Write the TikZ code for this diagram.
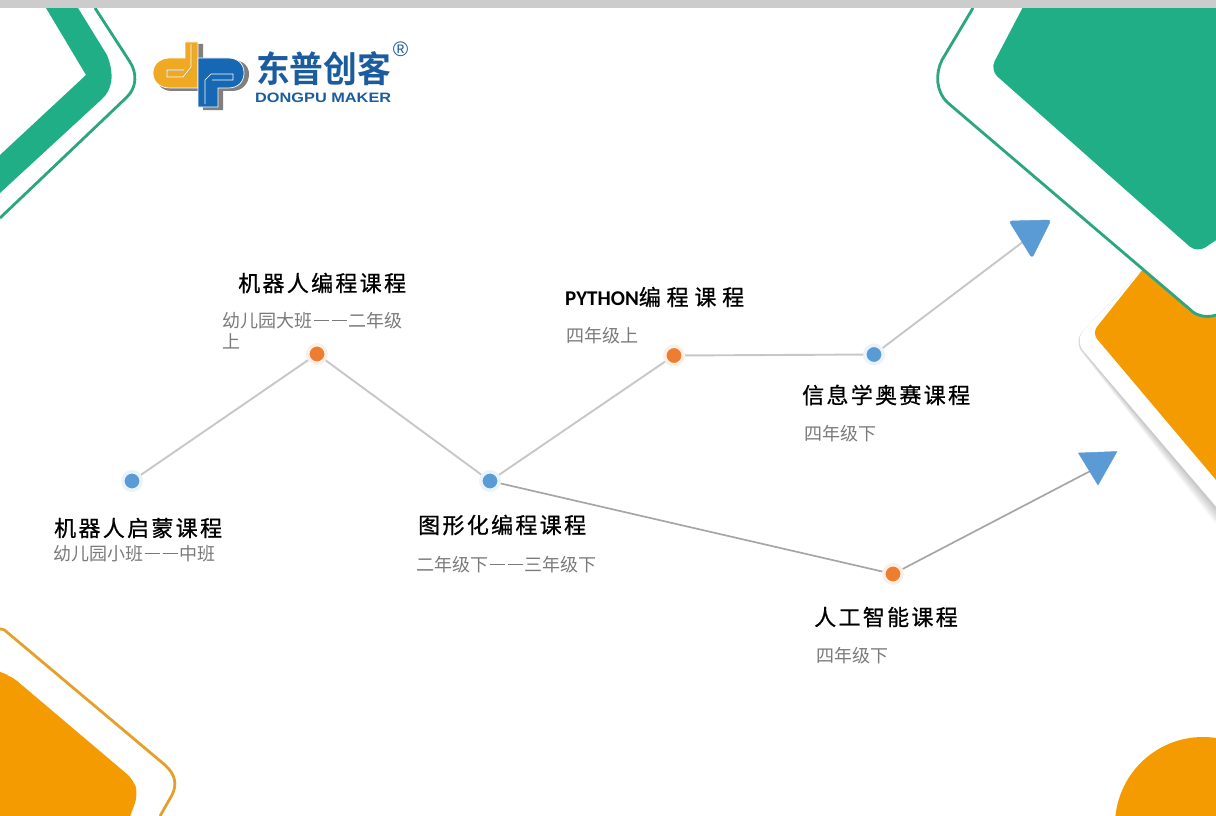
\documentclass[tikz,border=0pt]{standalone}
\usepackage{fontspec}
\setmainfont{Liberation Sans}
\newfontfamily\cjkreg{Noto Sans CJK SC}
\newfontfamily\cjktitle[LetterSpace=10.5,FakeBold=0.8]{Noto Sans CJK SC}
\newfontfamily\cjkbold[BoldFont={Noto Sans CJK SC Bold}]{Noto Sans CJK SC}
\newfontfamily\titlelatin{Carlito}
\newcommand{\dsh}{\hbox to 18pt{\hss\rule[.33em]{15pt}{1.4pt}\hss}}
\newcommand{\tgap}{\hspace{5.8pt}}
\definecolor{gfill}{HTML}{1FAE85}
\definecolor{gline}{HTML}{2BA67E}
\definecolor{ofill}{HTML}{F39B00}
\definecolor{oline}{HTML}{E5A02C}
\definecolor{dblue}{HTML}{5B9BD5}
\definecolor{dorange}{HTML}{ED7D31}
\definecolor{lblue}{HTML}{1A5C9E}
\definecolor{lorange}{HTML}{EFA922}
\definecolor{lpblue}{HTML}{1668B4}
\tikzset{
  titletext/.style={anchor=west,inner sep=0pt,text=black,font=\cjktitle\fontsize{22}{24}\selectfont},
  subtext/.style={anchor=west,inner sep=0pt,text=black!52,font=\cjkreg\fontsize{18}{21}\selectfont},
  bluedot/.style={circle,inner sep=0pt,minimum size=18.5pt,fill=dblue,draw=dblue!12,line width=3.5pt},
  orangedot/.style={circle,inner sep=0pt,minimum size=18.5pt,fill=dorange,draw=dorange!12,line width=3.5pt},
  link/.style={draw=black!22,line width=1.9pt},
  darklink/.style={draw=black!35,line width=1.7pt},
  tri/.style={fill=dblue,draw=dblue,line width=.5pt,line join=round},
  greenline/.style={draw=gline,line width=2.8pt},
  orangeline/.style={draw=oline,line width=2.8pt},
}
\begin{document}
\begin{tikzpicture}[x=1pt,y=-1pt]
\useasboundingbox (0,0) rectangle (1216,816);
% top left
\fill[gfill] (46,8) -- (86,75) -- (0,155) -- (0,193) -- (102,99)
  .. controls (112,90) and (115,75) .. (107,55) -- (78,8) -- cycle;
\draw[greenline] (95,8) -- (130,62) .. controls (137,73) and (137,87) .. (127,97) -- (0,218);
% bottom left
\fill[ofill,rounded corners=9pt] (-20,660) -- (0,673) -- (10,675) -- (134,780) -- (138,795) -- (125,830) -- (-20,830) -- cycle;
\draw[orangeline] (0,629) .. controls (4,629) and (6,631) .. (8,633) -- (165,765)
  .. controls (176,775) and (177,785) .. (172,795) -- (160,816);
% bottom right
\begin{scope}
\clip (0,0) rectangle (1216,816);
\fill[ofill] (1203,825) circle[radius=88];
% shadow + white band + orange block
\foreach \i in {1,...,9}{
  \fill[black,opacity=.026,rounded corners=14pt] (1150,262) -- ([shift={(-.12*\i,.12*\i)}]1074,340)
    -- ([shift={(-.95*\i,.95*\i)}]1230,523) -- (1240,262) -- cycle;
}
\fill[white,rounded corners=14pt] (1150,262) -- (1074,340) -- (1230,523) -- (1240,262) -- cycle;
\fill[ofill,rounded corners=8pt] (1152,258) -- (1092,333) -- (1230,496.5) -- (1240,258) -- cycle;
% top right
\fill[white] (973,8) -- (942,60) .. controls (935,74) and (936,92) .. (948,103)
  -- (1193,312) .. controls (1198,316) and (1208,318) .. (1216,315) -- (1240,315) -- (1240,-20) -- (973,-20) -- cycle;
\draw[greenline] (973,8) -- (942,60) .. controls (935,74) and (936,92) .. (948,103)
  -- (1193,312) .. controls (1198,316) and (1208,318) .. (1216,315);
\fill[gfill,rounded corners=10pt] (1034,-14) -- (990,70) -- (1197,253) -- (1240,224) -- (1240,-14) -- cycle;
\end{scope}
\fill[black!20] (0,0) rectangle (1216,8);
% logo
\begin{scope}
\fill[black!50] (189,44) -- (203,44) -- (203,60) -- (232,60) .. controls (243,60) and (249,66) .. (249,74)
  .. controls (249,83) and (243,91) .. (232,91) -- (223,91) -- (223,110) -- (203,110) -- (203,91) -- (172,91)
  .. controls (160,91) and (156,82) .. (156,74) -- (189,60) -- cycle;
\fill[lorange,draw=white,line width=.7pt] (185,42) -- (198,42) -- (198,88) -- (170,88)
  .. controls (159,88) and (153,81) .. (153,73) .. controls (153,65) and (159,58) .. (170,58) -- (185,58) -- cycle;
\draw[black!35,line width=.6pt] (191.8,44) -- (191.8,68) -- (183,77.6) -- (167,77.6) -- (167,70.6) -- (184,70.6);
\draw[white,line width=.7pt] (191,44) -- (191,67) -- (183,77) -- (167,77) -- (167,70) -- (184,70);
\fill[lpblue,draw=white,line width=.7pt] (198,58) -- (228,58) .. controls (239,58) and (244,65) .. (244,73)
  .. controls (244,81) and (239,88) .. (228,88) -- (218,88) -- (218,107) -- (198,107) -- cycle;
\draw[white,line width=.7pt] (205,104) -- (205,80) -- (211,74) -- (233,74) -- (233,80) -- (212,80);
\node[inner sep=0pt,anchor=west,text=lblue] (brandcn) at (256,68.5) {\resizebox{135pt}{31pt}{\cjkbold\bfseries 东普创客}};
\node[inner sep=0pt,anchor=west,text=lblue] (branden) at (255,97.5) {\resizebox{136pt}{9.5pt}{\bfseries DONGPU MAKER}};
\node[inner sep=0pt,text=lblue] (brandreg) at (400.5,49) {\fontsize{21}{21}\selectfont ®};
\end{scope}
% dots
\node[bluedot] (a) at (132,481) {};
\node[orangedot] (b) at (317,354) {};
\node[bluedot] (c) at (490,481) {};
\node[orangedot] (d) at (674,355.5) {};
\node[bluedot] (e) at (874,354.5) {};
\node[orangedot] (f) at (893,574) {};
\coordinate (t1) at (1028,238);
\coordinate (t2) at (1098,467);
% connectors
\draw[link] (a) -- (b);
\draw[link] (b) -- (c);
\draw[link] (c) -- (d);
\draw[link] (d) -- (e);
\draw[link] (e) -- (t1);
\draw[darklink] (c) -- (f);
\draw[darklink] (f) -- (t2);
% arrowheads
\fill[tri,rounded corners=3pt] (1009,221) -- (1051,220) -- (1032,258) -- cycle;
\fill[tri] (1078.5,453) -- (1117,451.5) -- (1098,485) -- cycle;
% labels
\node[titletext] (l1) at (54,528) {机器人启蒙课程};
\node[subtext] (s1) at (53,553.5) {幼儿园小班\dsh\dsh 中班};
\node[titletext] (l2) at (238,283) {机器人编程课程};
\node[subtext] (s2) at (222,320.5) {幼儿园大班\dsh\dsh 二年级};
\node[subtext] (s2b) at (222,341.5) {上};
\node[titletext] (l3) at (418,525) {图形化编程课程};
\node[subtext] (s3) at (416,564.5) {二年级下\dsh\dsh 三年级下};
\node[titletext] (l4) at (565,297) {{\titlelatin\bfseries\fontsize{21}{24}\selectfont PYTHON}编\tgap 程\tgap 课\tgap 程};
\node[subtext] (s4) at (566,335.5) {四年级上};
\node[titletext] (l5) at (802,395) {信息学奥赛课程};
\node[subtext] (s5) at (804,433.5) {四年级下};
\node[titletext] (l6) at (814,617) {人工智能课程};
\node[subtext] (s6) at (816,655.5) {四年级下};
\end{tikzpicture}
\end{document}
